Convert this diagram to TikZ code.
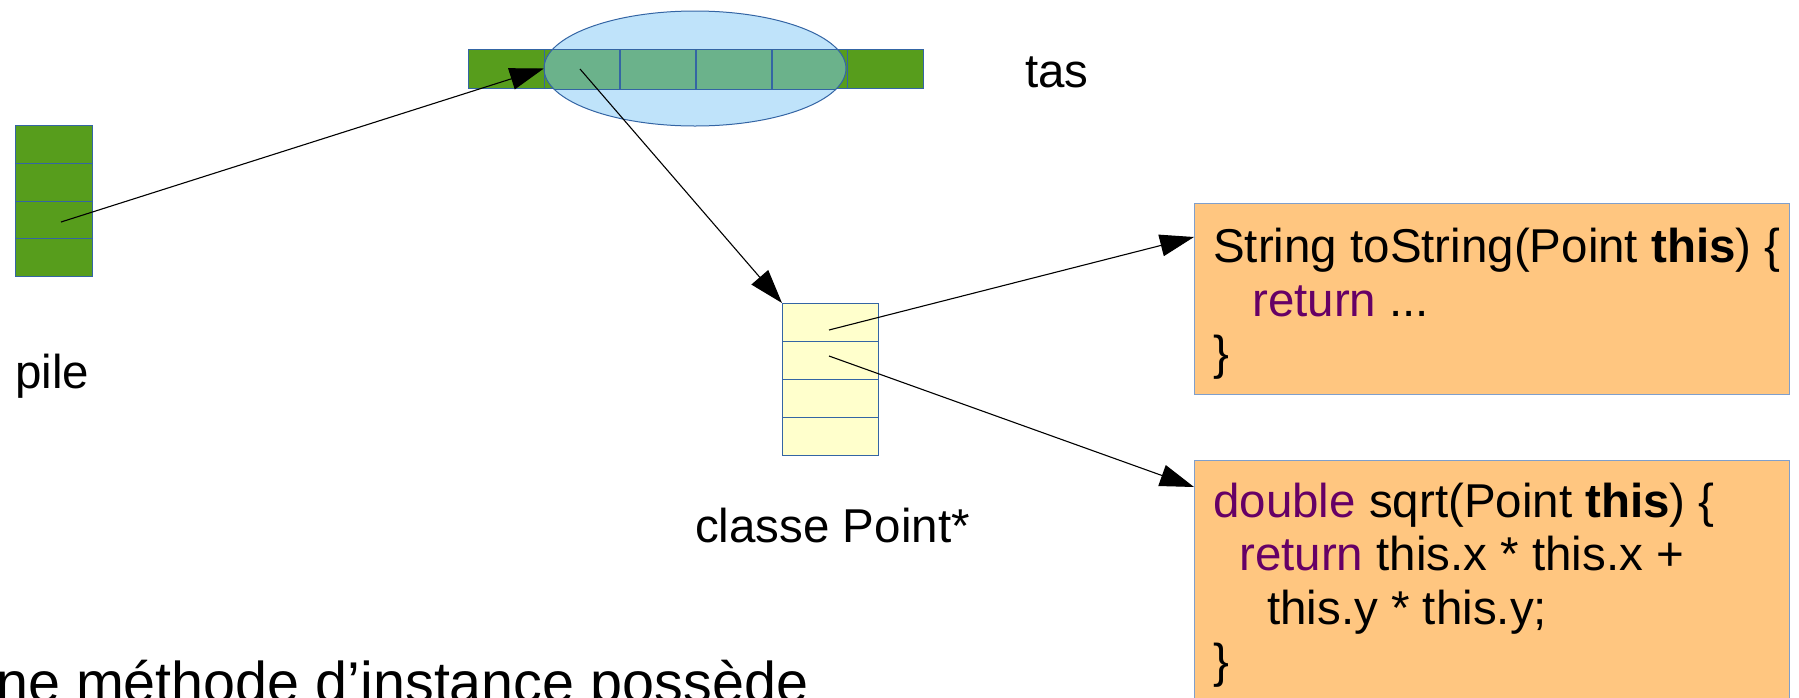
\documentclass[tikz,border=0pt]{standalone}
\usepackage{fontspec}
\setmainfont{Liberation Sans}
\usetikzlibrary{arrows.meta,calc,shapes.geometric}

\definecolor{vert}{HTML}{579D1C}
\definecolor{bleuclair}{HTML}{BFE3FA}
\definecolor{vertbleu}{HTML}{6BB28B}
\definecolor{bord}{HTML}{3465A4}
\definecolor{jaune}{HTML}{FFFFCC}
\definecolor{orangeclair}{HTML}{FFC680}
\definecolor{bordcode}{HTML}{7F9FCC}
\definecolor{violetfonce}{HTML}{660066}

\newcommand{\motcle}[1]{\textcolor{violetfonce}{#1}}

\begin{document}
\begin{tikzpicture}[x=1pt, y=-1pt,
  texte/.style={font=\fontsize{47.5}{55}\selectfont, inner sep=0pt, anchor=base west},
  case/.style={draw=bord, line width=1pt, minimum width=77pt, minimum height=38pt, inner sep=0pt, anchor=north west},
  codebox/.style={draw=bordcode, fill=orangeclair, line width=1pt, minimum width=595pt, inner sep=0pt, anchor=north west},
  fleche/.style={-{Triangle[length=34pt,width=22pt]}, line width=1.1pt}]
  \useasboundingbox (0,0) rectangle (1799,697);
  \clip (0,0) rectangle (1799,697);

  % La pile
  \foreach \i in {1,...,4}
    \node[case, fill=vert] (p\i) at (15, {125+(\i-1)*37.75}) {};
  \node[texte] (pile) at (15,388) {pile};

  % Le tas et la zone de l'objet
  \node[ellipse, fill=bleuclair, minimum width=302pt, minimum height=115pt, inner sep=0pt] (zone) at (695,68.5) {};
  \foreach \i in {1,...,6}
    \node[case, fill=vert, minimum width=75.83pt, minimum height=39pt] (t\i) at ({468+(\i-1)*75.83}, 49) {};
  \begin{scope}
    \clip (zone.center) ellipse (151 and 57.5);
    \fill[vertbleu] (t1.north west) rectangle (t6.south east);
    \foreach \i in {1,...,6}
      \draw[bord, line width=1pt] (t\i.north west) rectangle (t\i.south east);
  \end{scope}
  \draw[bord, line width=1pt] (zone.center) ellipse (151 and 57.5);
  \node[texte] (tas) at (1025,87) {tas};

  % La classe Point*
  \foreach \i in {1,...,4}
    \node[case, fill=jaune, minimum width=96pt] (c\i) at (782, {303+(\i-1)*38}) {};
  \node[texte] (classe) at (695,542) {classe Point*};

  % Les methodes
  \node[codebox, minimum height=191pt] (m1) at (1194,203) {};
  \node[texte] (l1) at (1213,262) {String toString(Point \textbf{this}) \{};
  \node[texte] (l2) at (1252,316) {\motcle{return} ...};
  \node[texte] (l3) at (1213,369) {\}};

  \node[codebox, minimum height=270pt] (m2) at (1194,460) {};
  \node[texte] (l4) at (1213,517) {\motcle{double} sqrt(Point \textbf{this}) \{};
  \node[texte] (l5) at (1239,570.5) {\motcle{return} this.x * this.x +};
  \node[texte] (l6) at (1267,624) {this.y * this.y;};
  \node[texte] (l7) at (1213,677.5) {\}};

  % Les references
  \coordinate (ptrpile) at (61,222);
  \coordinate (ptrtas) at (580,69);
  \coordinate (ptrm1) at (829,330);
  \coordinate (ptrm2) at (829,356);
  \draw[fleche] (ptrpile) -- (zone.west);
  \draw[fleche] (ptrtas) -- (c1.north west);
  \draw[fleche] (ptrm1) -- ($(m1.north west)+(0,34)$);
  \draw[fleche] (ptrm2) -- ($(m2.north west)+(0,27)$);

  % Phrase du bas
  \node[texte, font=\fontsize{57.5}{66}\selectfont] (phrase) at (-4,702) {ne méthode d’instance possède};
\end{tikzpicture}
\end{document}
